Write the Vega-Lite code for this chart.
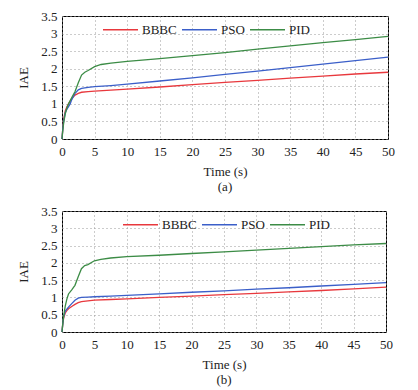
{
  "$schema": "https://vega.github.io/schema/vega-lite/v6.json",
  "padding": {"left": 17, "top": 9, "right": 5, "bottom": 5},
  "background": "white",
  "config": {
    "font": "Liberation Serif",
    "view": {"stroke": "black", "strokeWidth": 1},
    "axis": {
      "labelFont": "Liberation Serif", "titleFont": "Liberation Serif",
      "labelFontSize": 13, "titleFontSize": 13, "titleFontWeight": "normal",
      "labelColor": "#222", "titleColor": "#222",
      "domain": false, "ticks": false,
      "grid": true, "gridColor": "#999", "gridDash": [1, 3], "gridWidth": 1
    },
    "legend": {"labelFont": "Liberation Serif", "labelFontSize": 13, "labelColor": "#222", "padding": 0},
    "title": {"font": "Liberation Serif", "fontSize": 13, "fontWeight": "normal", "color": "#222"}
  },
  "datasets": {
    "a": [
      {"t":0,"IAE":0,"m":"BBBC"},{"t":0.1,"IAE":0.25,"m":"BBBC"},{"t":0.25,"IAE":0.55,"m":"BBBC"},{"t":0.5,"IAE":0.8,"m":"BBBC"},{"t":0.75,"IAE":0.92,"m":"BBBC"},{"t":1,"IAE":1.0,"m":"BBBC"},{"t":1.5,"IAE":1.15,"m":"BBBC"},{"t":2,"IAE":1.25,"m":"BBBC"},{"t":2.5,"IAE":1.3,"m":"BBBC"},{"t":3,"IAE":1.33,"m":"BBBC"},{"t":4,"IAE":1.35,"m":"BBBC"},{"t":5,"IAE":1.36,"m":"BBBC"},{"t":7.5,"IAE":1.39,"m":"BBBC"},{"t":10,"IAE":1.42,"m":"BBBC"},{"t":15,"IAE":1.48,"m":"BBBC"},{"t":20,"IAE":1.55,"m":"BBBC"},{"t":25,"IAE":1.61,"m":"BBBC"},{"t":30,"IAE":1.67,"m":"BBBC"},{"t":35,"IAE":1.73,"m":"BBBC"},{"t":40,"IAE":1.79,"m":"BBBC"},{"t":45,"IAE":1.85,"m":"BBBC"},{"t":50,"IAE":1.9,"m":"BBBC"},
      {"t":0,"IAE":0,"m":"PSO"},{"t":0.1,"IAE":0.25,"m":"PSO"},{"t":0.25,"IAE":0.5,"m":"PSO"},{"t":0.5,"IAE":0.75,"m":"PSO"},{"t":0.75,"IAE":0.85,"m":"PSO"},{"t":1,"IAE":0.92,"m":"PSO"},{"t":1.25,"IAE":1.0,"m":"PSO"},{"t":1.5,"IAE":1.12,"m":"PSO"},{"t":2,"IAE":1.3,"m":"PSO"},{"t":2.5,"IAE":1.4,"m":"PSO"},{"t":3,"IAE":1.44,"m":"PSO"},{"t":4,"IAE":1.47,"m":"PSO"},{"t":5,"IAE":1.49,"m":"PSO"},{"t":7.5,"IAE":1.52,"m":"PSO"},{"t":10,"IAE":1.56,"m":"PSO"},{"t":15,"IAE":1.65,"m":"PSO"},{"t":20,"IAE":1.74,"m":"PSO"},{"t":25,"IAE":1.84,"m":"PSO"},{"t":30,"IAE":1.93,"m":"PSO"},{"t":35,"IAE":2.03,"m":"PSO"},{"t":40,"IAE":2.13,"m":"PSO"},{"t":45,"IAE":2.23,"m":"PSO"},{"t":50,"IAE":2.33,"m":"PSO"},
      {"t":0,"IAE":0,"m":"PID"},{"t":0.1,"IAE":0.2,"m":"PID"},{"t":0.25,"IAE":0.45,"m":"PID"},{"t":0.5,"IAE":0.72,"m":"PID"},{"t":0.75,"IAE":0.88,"m":"PID"},{"t":1,"IAE":1.0,"m":"PID"},{"t":1.5,"IAE":1.18,"m":"PID"},{"t":2,"IAE":1.35,"m":"PID"},{"t":2.5,"IAE":1.6,"m":"PID"},{"t":3,"IAE":1.82,"m":"PID"},{"t":3.5,"IAE":1.9,"m":"PID"},{"t":4,"IAE":1.95,"m":"PID"},{"t":5,"IAE":2.06,"m":"PID"},{"t":6,"IAE":2.12,"m":"PID"},{"t":7.5,"IAE":2.16,"m":"PID"},{"t":10,"IAE":2.21,"m":"PID"},{"t":15,"IAE":2.29,"m":"PID"},{"t":20,"IAE":2.37,"m":"PID"},{"t":25,"IAE":2.46,"m":"PID"},{"t":30,"IAE":2.56,"m":"PID"},{"t":35,"IAE":2.65,"m":"PID"},{"t":40,"IAE":2.74,"m":"PID"},{"t":45,"IAE":2.83,"m":"PID"},{"t":50,"IAE":2.92,"m":"PID"}
    ],
    "b": [
      {"t":0,"IAE":0,"m":"BBBC"},{"t":0.1,"IAE":0.2,"m":"BBBC"},{"t":0.25,"IAE":0.4,"m":"BBBC"},{"t":0.5,"IAE":0.55,"m":"BBBC"},{"t":0.75,"IAE":0.62,"m":"BBBC"},{"t":1,"IAE":0.67,"m":"BBBC"},{"t":1.5,"IAE":0.74,"m":"BBBC"},{"t":2,"IAE":0.8,"m":"BBBC"},{"t":2.5,"IAE":0.85,"m":"BBBC"},{"t":3,"IAE":0.88,"m":"BBBC"},{"t":4,"IAE":0.9,"m":"BBBC"},{"t":5,"IAE":0.92,"m":"BBBC"},{"t":7.5,"IAE":0.94,"m":"BBBC"},{"t":10,"IAE":0.96,"m":"BBBC"},{"t":15,"IAE":1.0,"m":"BBBC"},{"t":20,"IAE":1.04,"m":"BBBC"},{"t":25,"IAE":1.08,"m":"BBBC"},{"t":30,"IAE":1.12,"m":"BBBC"},{"t":35,"IAE":1.16,"m":"BBBC"},{"t":40,"IAE":1.2,"m":"BBBC"},{"t":45,"IAE":1.25,"m":"BBBC"},{"t":50,"IAE":1.3,"m":"BBBC"},
      {"t":0,"IAE":0,"m":"PSO"},{"t":0.1,"IAE":0.2,"m":"PSO"},{"t":0.25,"IAE":0.45,"m":"PSO"},{"t":0.5,"IAE":0.6,"m":"PSO"},{"t":0.75,"IAE":0.66,"m":"PSO"},{"t":1,"IAE":0.72,"m":"PSO"},{"t":1.5,"IAE":0.82,"m":"PSO"},{"t":2,"IAE":0.92,"m":"PSO"},{"t":2.5,"IAE":0.98,"m":"PSO"},{"t":3,"IAE":1.0,"m":"PSO"},{"t":4,"IAE":1.01,"m":"PSO"},{"t":5,"IAE":1.02,"m":"PSO"},{"t":7.5,"IAE":1.04,"m":"PSO"},{"t":10,"IAE":1.06,"m":"PSO"},{"t":15,"IAE":1.1,"m":"PSO"},{"t":20,"IAE":1.15,"m":"PSO"},{"t":25,"IAE":1.19,"m":"PSO"},{"t":30,"IAE":1.24,"m":"PSO"},{"t":35,"IAE":1.28,"m":"PSO"},{"t":40,"IAE":1.33,"m":"PSO"},{"t":45,"IAE":1.38,"m":"PSO"},{"t":50,"IAE":1.43,"m":"PSO"},
      {"t":0,"IAE":0,"m":"PID"},{"t":0.1,"IAE":0.2,"m":"PID"},{"t":0.25,"IAE":0.45,"m":"PID"},{"t":0.5,"IAE":0.75,"m":"PID"},{"t":0.75,"IAE":0.95,"m":"PID"},{"t":1,"IAE":1.1,"m":"PID"},{"t":1.5,"IAE":1.22,"m":"PID"},{"t":2,"IAE":1.35,"m":"PID"},{"t":2.5,"IAE":1.6,"m":"PID"},{"t":3,"IAE":1.83,"m":"PID"},{"t":3.5,"IAE":1.92,"m":"PID"},{"t":4,"IAE":1.95,"m":"PID"},{"t":5,"IAE":2.06,"m":"PID"},{"t":6,"IAE":2.1,"m":"PID"},{"t":7.5,"IAE":2.14,"m":"PID"},{"t":10,"IAE":2.18,"m":"PID"},{"t":15,"IAE":2.22,"m":"PID"},{"t":20,"IAE":2.27,"m":"PID"},{"t":25,"IAE":2.32,"m":"PID"},{"t":30,"IAE":2.37,"m":"PID"},{"t":35,"IAE":2.42,"m":"PID"},{"t":40,"IAE":2.47,"m":"PID"},{"t":45,"IAE":2.52,"m":"PID"},{"t":50,"IAE":2.56,"m":"PID"}
    ]
  },
  "spacing": 9,
  "resolve": {"legend": {"color": "independent"}},
  "vconcat": [
    {
      "width": 326, "height": 123,
      "data": {"name": "a"},
      "title": {"text": "(a)", "orient": "bottom", "offset": 3},
      "mark": {"type": "line", "strokeWidth": 1.3},
      "encoding": {
        "x": {"field": "t", "type": "quantitative", "scale": {"domain": [0, 50], "nice": false}, "axis": {"title": "Time (s)", "values": [0,5,10,15,20,25,30,35,40,45,50], "labelPadding": 6, "titlePadding": 7, "labelFlush": false}},
        "y": {"field": "IAE", "type": "quantitative", "scale": {"domain": [0, 3.5], "nice": false}, "axis": {"title": "IAE", "values": [0,0.5,1,1.5,2,2.5,3,3.5], "format": "~g", "labelPadding": 5, "titlePadding": 10}},
        "color": {"field": "m", "type": "nominal", "sort": ["BBBC","PSO","PID"], "scale": {"domain": ["BBBC","PSO","PID"], "range": ["#e8383d","#3b5fc9","#3c8c46"]},
          "legend": {"title": null, "orient": "none", "legendX": 40, "legendY": -5, "direction": "horizontal", "symbolType": "stroke", "symbolSize": 1225, "symbolStrokeWidth": 1.5, "labelOffset": 3, "columnPadding": 2}}
      }
    },
    {
      "width": 324, "height": 121,
      "data": {"name": "b"},
      "title": {"text": "(b)", "orient": "bottom", "offset": 3},
      "mark": {"type": "line", "strokeWidth": 1.3},
      "encoding": {
        "x": {"field": "t", "type": "quantitative", "scale": {"domain": [0, 50], "nice": false}, "axis": {"title": "Time (s)", "values": [0,5,10,15,20,25,30,35,40,45,50], "labelPadding": 6, "titlePadding": 7, "labelFlush": false}},
        "y": {"field": "IAE", "type": "quantitative", "scale": {"domain": [0, 3.5], "nice": false}, "axis": {"title": "IAE", "values": [0,0.5,1,1.5,2,2.5,3,3.5], "format": "~g", "labelPadding": 5, "titlePadding": 10}},
        "color": {"field": "m", "type": "nominal", "sort": ["BBBC","PSO","PID"], "scale": {"domain": ["BBBC","PSO","PID"], "range": ["#e8383d","#3b5fc9","#3c8c46"]},
          "legend": {"title": null, "orient": "none", "legendX": 60, "legendY": -5, "direction": "horizontal", "symbolType": "stroke", "symbolSize": 1225, "symbolStrokeWidth": 1.5, "labelOffset": 3, "columnPadding": 2}}
      }
    }
  ]
}
